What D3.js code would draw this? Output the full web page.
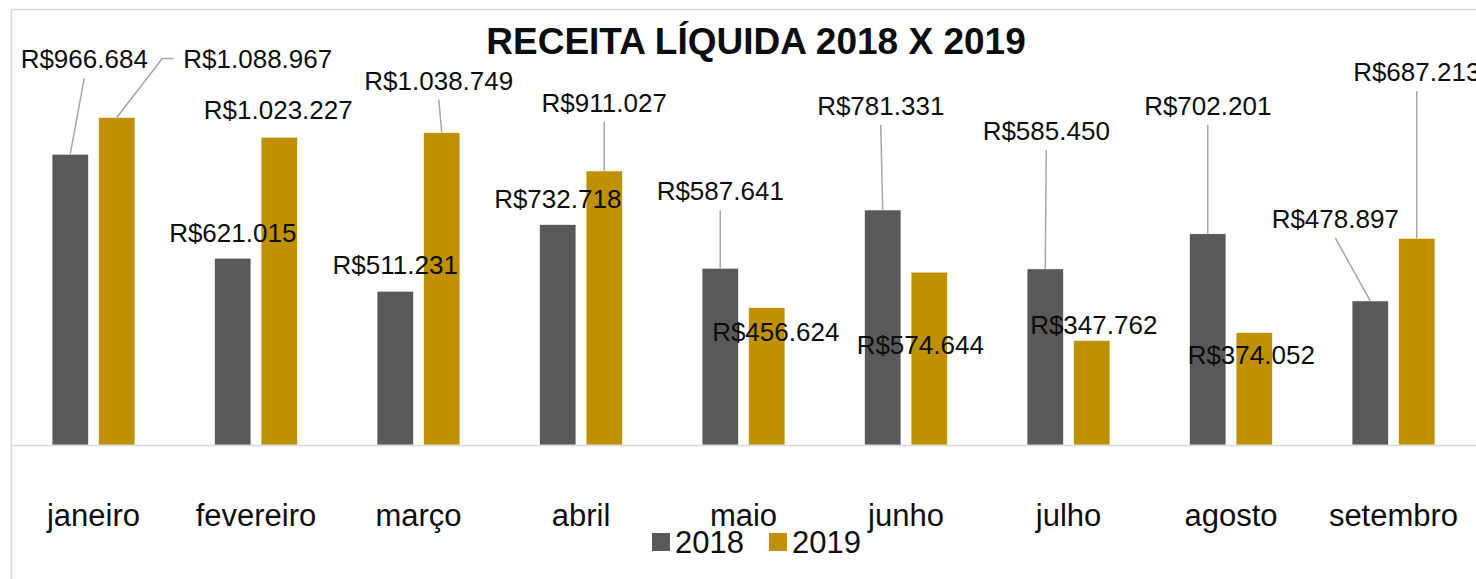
<!DOCTYPE html>
<html>
<head>
<meta charset="utf-8">
<script src="https://cdn.jsdelivr.net/npm/d3@7"></script>
<style>
  body { margin: 0; background: #fff; }
  text { font-family: "Liberation Sans", Arial, sans-serif; fill: #0d0d0d; }
</style>
</head>
<body>
<svg id="chart" width="1476" height="579"></svg>
<script>
const months = ["janeiro", "fevereiro", "março", "abril", "maio", "junho", "julho", "agosto", "setembro"];
const series = ["2018", "2019"];
const values2018 = [966684, 621015, 511231, 732718, 587641, 781331, 585450, 702201, 478897];
const values2019 = [1088967, 1023227, 1038749, 911027, 456624, 574644, 347762, 374052, 687213];

// where excel left each label, relative to the top of its bar: [dx, dy, leader]
const labelPos2018 = [[14, -86, "bottom"], [0, -16, ""], [0, -17, ""], [0, -17, ""], [0, -68, "bottom"],
  [-2, -95, "bottom"], [1, -129, "bottom"], [0, -119, "bottom"], [-35, -73, "bottom"]];
const labelPos2019 = [[141, -49, "side"], [-1, -18, ""], [-3, -43, "bottom"], [0, -59, "bottom"], [9, 33, ""],
  [-9, 82, ""], [2, -6, ""], [-3, 32, ""], [0, -157, "bottom"]];

const colors = {"2018": "#595959", "2019": "#BF9000"};

const svg = d3.select("#chart");
const baseY = 445;

const brl = d3.formatLocale({decimal: ",", thousands: ".", grouping: [3], currency: ["R$", ""]});
const fmt = brl.format("$,.0f");

// chart frame
svg.append("rect")
  .attr("x", 11.5).attr("y", 9.5)
  .attr("width", 1480).attr("height", 600)
  .attr("fill", "none")
  .attr("stroke", "#d9d9d9")
  .attr("stroke-width", 1.5);

const x = d3.scaleBand()
  .domain(months)
  .range([12.25, 1474.75])
  .paddingInner(0.49)
  .paddingOuter(0.245);

const xs = d3.scaleBand()
  .domain(series)
  .range([0, x.bandwidth()])
  .paddingInner(0.218);

const y = d3.scaleLinear()
  .domain([0, 1000000])
  .range([baseY, baseY - 300.8]);

const rows = months.map((m, i) => ({
  month: m,
  vals: [
    {key: "2018", value: values2018[i], pos: labelPos2018[i]},
    {key: "2019", value: values2019[i], pos: labelPos2019[i]}
  ]
}));

const groups = svg.append("g")
  .selectAll("g")
  .data(rows)
  .join("g")
  .attr("transform", d => `translate(${x(d.month)},0)`);

groups.selectAll("rect")
  .data(d => d.vals)
  .join("rect")
  .attr("x", d => xs(d.key))
  .attr("y", d => y(d.value))
  .attr("width", xs.bandwidth())
  .attr("height", d => baseY - y(d.value))
  .attr("fill", d => colors[d.key])
  .attr("stroke", "#fff")
  .attr("stroke-width", 0.6);

// horizontal axis line
svg.append("line")
  .attr("x1", 12).attr("x2", 1476)
  .attr("y1", baseY + 0.5).attr("y2", baseY + 0.5)
  .attr("stroke", "#d9d9d9")
  .attr("stroke-width", 1.5);

// data labels + leader lines
const leaders = svg.append("g");
const labels = svg.append("g");

rows.forEach(r => {
  r.vals.forEach(v => {
    const bx = x(r.month) + xs(v.key) + xs.bandwidth() / 2;
    const by = y(v.value);
    const lx = bx + v.pos[0];
    const ly = by + v.pos[1];

    const t = labels.append("text")
      .attr("x", lx)
      .attr("y", ly)
      .attr("text-anchor", "middle")
      .attr("font-size", 26)
      .text(fmt(v.value));

    if (v.pos[2] === "bottom") {
      leaders.append("line")
        .attr("x1", lx).attr("y1", ly + 10)
        .attr("x2", bx).attr("y2", by)
        .attr("stroke", "#a6a6a6")
        .attr("stroke-width", 1.5);
    } else if (v.pos[2] === "side") {
      const w = t.node().getComputedTextLength();
      const sx = lx - w / 2 - 10;
      leaders.append("polyline")
        .attr("points", `${sx},${ly - 10} ${sx - 11},${ly - 10} ${bx},${by}`)
        .attr("fill", "none")
        .attr("stroke", "#a6a6a6")
        .attr("stroke-width", 1.5);
    }
  });
});

// category labels
svg.append("g")
  .selectAll("text")
  .data(months)
  .join("text")
  .attr("x", d => x(d) + x.bandwidth() / 2)
  .attr("y", 526)
  .attr("text-anchor", "middle")
  .attr("font-size", 31)
  .text(d => d);

// title
svg.append("text")
  .attr("x", 756)
  .attr("y", 54)
  .attr("text-anchor", "middle")
  .attr("font-size", 37)
  .attr("font-weight", "bold")
  .text("RECEITA LÍQUIDA 2018 X 2019");

// legend
const legend = svg.append("g");
const legendX = [652, 769];
series.forEach((s, i) => {
  legend.append("rect")
    .attr("x", legendX[i]).attr("y", 533)
    .attr("width", 18).attr("height", 18)
    .attr("fill", colors[s]);
  legend.append("text")
    .attr("x", legendX[i] + 23)
    .attr("y", 553)
    .attr("font-size", 31)
    .text(s);
});
</script>
</body>
</html>
